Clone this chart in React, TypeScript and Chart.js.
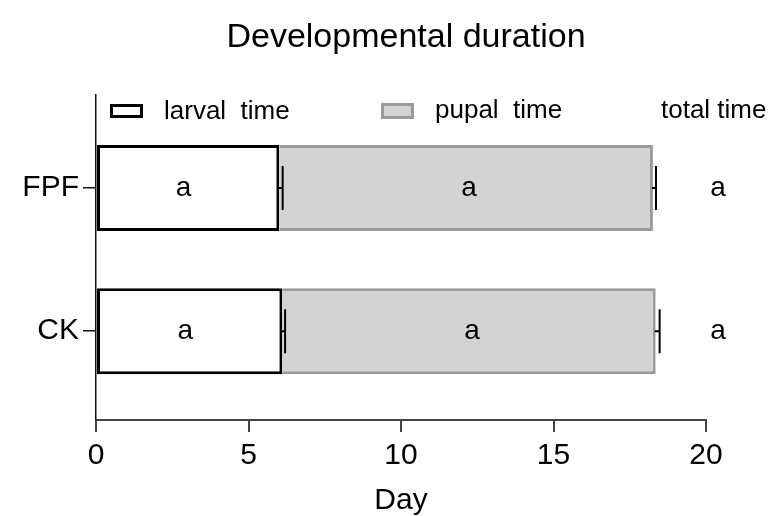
import React, { useEffect, useRef } from "react";
import { Chart, registerables } from "chart.js";

Chart.register(...registerables);

const categories = ["FPF", "CK"];
const larvalMeans = [6.01, 6.11];
const larvalSD = [0.11, 0.09];
const pupalMeans = [12.25, 12.24];
const totalSD = [0.1, 0.13];
const larvalLetters = ["a", "a"];
const pupalLetters = ["a", "a"];
const totalLetters = ["a", "a"];
const legendLabels = ["larval  time", "pupal  time", "total time"];
const xTicks = [0, 5, 10, 15, 20];
const chartTitle = "Developmental duration";
const xTitle = "Day";

const FONT = '"Liberation Sans", Arial, sans-serif';

const overlayPlugin = {
  id: "overlay",
  afterDatasetsDraw(chart: any) {
    const { ctx, scales } = chart;
    const xs = scales.x;
    const ys = scales.y;
    ctx.save();
    ctx.strokeStyle = "#000";
    ctx.lineWidth = 2;
    categories.forEach((_, i) => {
      const y = ys.getPixelForValue(i);
      const pairs = [
        [larvalMeans[i], larvalMeans[i] + larvalSD[i]],
        [larvalMeans[i] + pupalMeans[i], larvalMeans[i] + pupalMeans[i] + totalSD[i]],
      ];
      pairs.forEach(([a, b]) => {
        const x0 = xs.getPixelForValue(a);
        const x1 = xs.getPixelForValue(b);
        ctx.beginPath();
        ctx.moveTo(x0 - 1, y);
        ctx.lineTo(x1, y);
        ctx.moveTo(x1, y - 22);
        ctx.lineTo(x1, y + 22);
        ctx.stroke();
      });
    });
    ctx.restore();
  },
  afterDraw(chart: any) {
    const { ctx, scales, chartArea } = chart;
    const xs = scales.x;
    const ys = scales.y;
    ctx.save();
    ctx.fillStyle = "#000";
    ctx.font = `34px ${FONT}`;
    ctx.textAlign = "center";
    ctx.textBaseline = "alphabetic";
    ctx.fillText(chartTitle, 406, 47);

    ctx.lineWidth = 3;
    ctx.fillStyle = "#fff";
    ctx.strokeStyle = "#000";
    ctx.fillRect(111.5, 105.5, 30, 11);
    ctx.strokeRect(111.5, 105.5, 30, 11);
    ctx.fillStyle = "#d3d3d3";
    ctx.strokeStyle = "#9a9a9a";
    ctx.fillRect(382.5, 104.5, 30, 13);
    ctx.strokeRect(382.5, 104.5, 30, 13);
    ctx.fillStyle = "#000";
    ctx.font = `26px ${FONT}`;
    ctx.textAlign = "left";
    ctx.fillText(legendLabels[0], 164, 119);
    ctx.fillText(legendLabels[1], 435, 118);
    ctx.fillText(legendLabels[2], 661, 118);

    ctx.font = `28px ${FONT}`;
    ctx.textAlign = "center";
    categories.forEach((_, i) => {
      const y = ys.getPixelForValue(i) + 8;
      const x0 = xs.getPixelForValue(0);
      const x1 = xs.getPixelForValue(larvalMeans[i]);
      const x2 = xs.getPixelForValue(larvalMeans[i] + pupalMeans[i]);
      ctx.fillText(larvalLetters[i], (x0 + x1) / 2 - 4, y);
      ctx.fillText(pupalLetters[i], (x1 + x2) / 2 + 3, y);
      ctx.fillText(totalLetters[i], chartArea.right + 12, y);
    });
    ctx.restore();
  },
};

export default function App() {
  const ref = useRef<HTMLCanvasElement | null>(null);
  useEffect(() => {
    if (!ref.current) return;
    const chart = new Chart(ref.current, {
      type: "bar",
      data: {
        datasets: [
          {
            label: legendLabels[0],
            data: larvalMeans.map((v, i) => ({ x: v, y: i })),
            backgroundColor: "#ffffff",
            borderColor: "#000000",
            borderWidth: 3,
            borderSkipped: false,
          },
          {
            label: legendLabels[1],
            data: pupalMeans.map((v, i) => ({ x: v, y: i })),
            backgroundColor: "#d3d3d3",
            borderColor: "#9a9a9a",
            borderWidth: 3,
            borderSkipped: "start",
          },
        ],
      } as any,
      options: {
        indexAxis: "y",
        responsive: false,
        animation: false,
        layout: { padding: { top: 95, right: 62, left: 0, bottom: 0 } },
        datasets: { bar: { categoryPercentage: 1, barPercentage: 0.6 } } as any,
        plugins: {
          legend: { display: false },
          title: { display: false },
          tooltip: { enabled: false },
        },
        scales: {
          x: {
            type: "linear",
            stacked: true,
            min: 0,
            max: 20,
            offset: false,
            afterFit: (s: any) => {
              s.height = 96;
            },
            afterBuildTicks: (s: any) => {
              s.ticks = xTicks.map((v) => ({ value: v }));
            },
            grid: {
              display: true,
              offset: false,
              drawOnChartArea: false,
              drawTicks: true,
              tickLength: 12,
              color: "#444",
              lineWidth: 2,
            },
            border: { display: true, color: "#444", width: 2 },
            ticks: {
              color: "#000",
              font: { family: FONT, size: 30 },
              padding: 6,
              maxRotation: 0,
            },
            title: {
              display: true,
              text: xTitle,
              color: "#000",
              font: { family: FONT, size: 30 },
              padding: { top: 0, bottom: -3 },
            },
          },
          y: {
            type: "linear",
            stacked: true,
            reverse: true,
            min: -0.65,
            max: 1.62,
            offset: false,
            afterFit: (s: any) => {
              s.width = 96;
            },
            afterBuildTicks: (s: any) => {
              s.ticks = categories.map((_, i) => ({ value: i }));
            },
            grid: {
              display: true,
              offset: false,
              drawOnChartArea: false,
              drawTicks: true,
              tickLength: 13,
              color: "#111",
              lineWidth: 1.5,
            },
            border: { display: true, color: "#111", width: 1.5 },
            ticks: {
              color: "#000",
              font: { family: FONT, size: 30 },
              padding: 4,
              callback: (v: any) => categories[v] ?? "",
            },
          },
        },
      } as any,
      plugins: [overlayPlugin],
    });
    return () => chart.destroy();
  }, []);
  return (
    <div style={{ position: "absolute", left: 0, top: 0, width: 768, height: 516, background: "#fff" }}>
      <canvas ref={ref} width={768} height={516} />
    </div>
  );
}
